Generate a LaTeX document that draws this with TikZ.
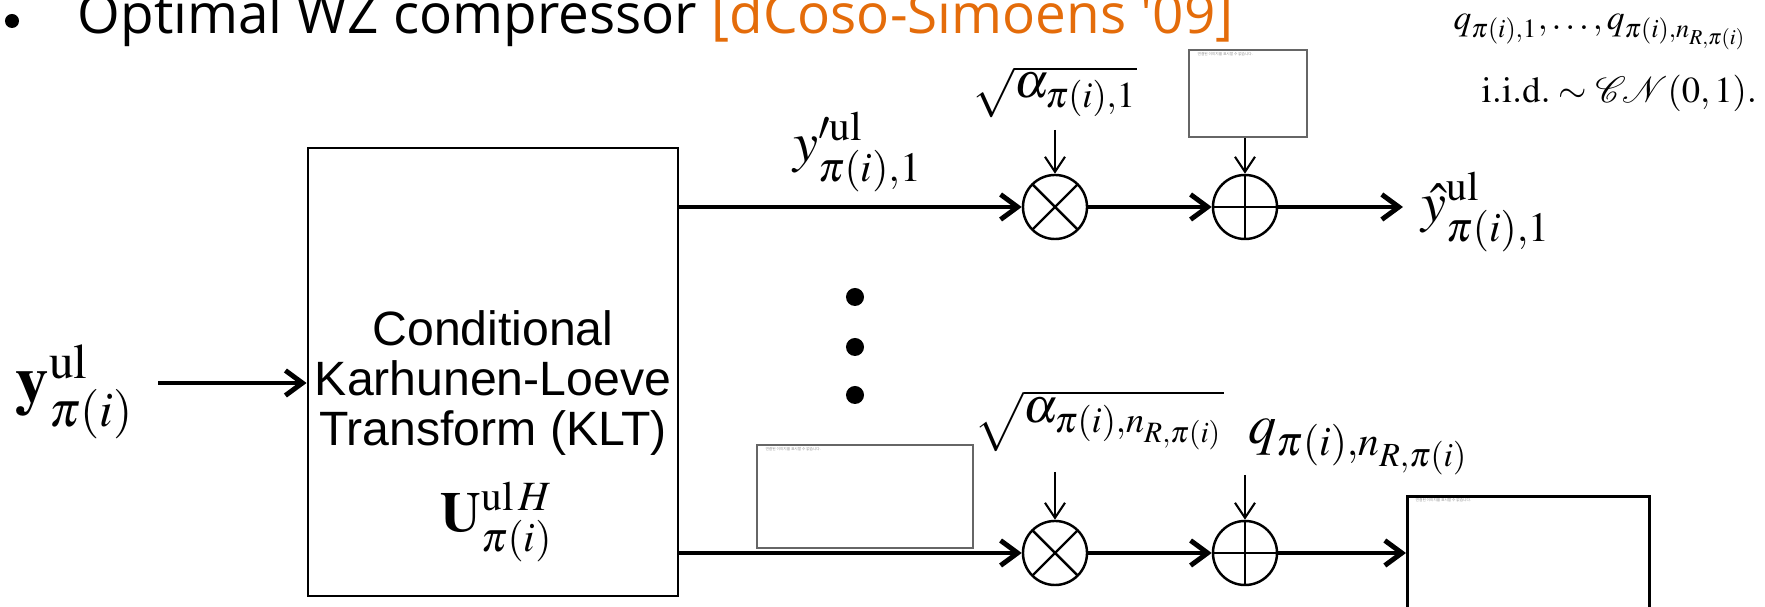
\documentclass[tikz,border=0pt]{standalone}
\usepackage[no-math]{fontspec}
\usepackage{mathptmx}
\usepackage{bm}
\usepackage{tikz}
\usetikzlibrary{arrows.meta,positioning}
\newfontfamily\titlefont{Open Sans}
\newfontfamily\boxfont{Liberation Sans}
\newfontfamily\phfont{Noto Sans CJK KR}
\definecolor{refcolor}{RGB}{228,108,10}

\begin{document}
\begin{tikzpicture}[
  x=0.01cm, y=-0.01cm,
  sig/.style={line width=1.4pt, -{Straight Barb[length=0.17cm, width=0.25cm]}},
  gain/.style={line width=0.6pt, -{Straight Barb[length=0.15cm, width=0.2cm]}},
  op/.style={draw, circle, line width=0.7pt, minimum size=0.64cm, inner sep=0pt},
  mult/.style={op, path picture={\draw[line width=0.7pt]
      (path picture bounding box.north west) -- (path picture bounding box.south east)
      (path picture bounding box.north east) -- (path picture bounding box.south west);}},
  adder/.style={op, path picture={\draw[line width=0.7pt]
      (path picture bounding box.north) -- (path picture bounding box.south)
      (path picture bounding box.west) -- (path picture bounding box.east);}},
  ph/.style={draw=black!60, line width=0.6pt, inner sep=0pt},
  phtext/.style={font=\phfont\fontsize{1.05}{1.2}\selectfont, text=black!45, inner sep=0pt, anchor=north west},
  lbl/.style={inner sep=0pt, font=\fontsize{16}{18}\selectfont},
  dot/.style={circle, fill, inner sep=0pt, minimum size=0.18cm}
]
\useasboundingbox (0,0) rectangle (1765,607);

% title line
\node[circle, fill, inner sep=0pt, minimum size=0.14cm] (bullet) at (12,21) {};
\node[anchor=base west, inner sep=0pt, font=\titlefont\fontsize{15.6}{18}\selectfont] (title) at (77,34)
  {Optimal WZ compressor \textcolor{refcolor}{[dCoso-Simoens '09]}};

% KLT block
\node[draw, line width=0.75pt, minimum width=3.70cm, minimum height=4.48cm, inner sep=0pt] (klt) at (493,372) {};
\node[font=\boxfont\fontsize{13.7}{14.2}\selectfont, align=center, inner sep=0pt] (kltname) at (493,383)
  {Conditional\\Karhunen-Loeve\\Transform (KLT)};
\node[lbl] (kltmat) at (497,522) {$\mathbf{U}^{\mathrm{ul}\,H}_{\pi(i)}$};

% input
\node[lbl, font=\fontsize{19}{22}\selectfont] (yin) at (75,392) {$\mathbf{y}^{\mathrm{ul}}_{\pi(i)}$};
\coordinate (in) at (158,383);
\draw[sig] (in) -- (in -| klt.west);

% first branch
\node[mult] (m1) at (1055,207) {};
\node[adder] (a1) at (1245,207) {};
\coordinate (out1) at (1403,207);
\draw[sig] (klt.east |- m1) -- (m1);
\draw[sig] (m1) -- (a1);
\draw[sig] (a1) -- (out1);
\node[lbl] (yp1) at (858,152) {$y^{\prime\mathrm{ul}}_{\pi(i),1}$};
\node[lbl, anchor=west] (yhat1) at (1421,212) {$\hat{y}^{\mathrm{ul}}_{\pi(i),1}$};
\node[lbl, font=\fontsize{14}{16}\selectfont] (g1) at (1055,92) {$\sqrt{\alpha_{\pi(i),1}}$};
\coordinate (g1end) at (1055,130);
\draw[gain] (g1end) -- (m1);
\node[ph, minimum width=1.18cm, minimum height=0.87cm] (q1box) at (1248,93.5) {};
\node[phtext] (q1msg) at ([shift={(9,3)}]q1box.north west) {연결된 이미지를 표시할 수 없습니다.};
\draw[gain] (a1 |- q1box.south) -- (a1);

% dots
\foreach \y [count=\k] in {297,347,395}
  \node[dot] (dot\k) at (855,\y) {};

% last branch
\node[mult] (m2) at (1055,553) {};
\node[adder] (a2) at (1245,553) {};
\node[draw, line width=0.75pt, minimum width=2.42cm, minimum height=1.5cm, anchor=north west, inner sep=0pt] (outbox) at (1406,495) {};
\node[phtext] (outmsg) at ([shift={(9,3)}]outbox.north west) {연결된 이미지를 표시할 수 없습니다.};
\draw[sig] (klt.east |- m2) -- (m2);
\draw[sig] (m2) -- (a2);
\draw[sig] (a2) -- (a2 -| outbox.west);
\node[ph, minimum width=2.16cm, minimum height=1.03cm] (ybox) at (865,496.5) {};
\node[phtext] (ymsg) at ([shift={(9,3)}]ybox.north west) {연결된 이미지를 표시할 수 없습니다.};
\node[lbl, font=\fontsize{14}{16}\selectfont] (g2) at (1099,421) {$\sqrt{\alpha_{\pi(i),n_{R,\pi(i)}}}$};
\coordinate (g2end) at (1055,472);
\draw[gain] (g2end) -- (m2);
\node[lbl, anchor=west] (qn) at (1248,447) {$q_{\pi(i),n_{R,\pi(i)}}$};
\coordinate (qnend) at (1245,475);
\draw[gain] (qnend) -- (a2);

% noise statistics
\node[lbl, font=\fontsize{10.1}{12}\selectfont, anchor=west] (qlist) at (1453,32)
  {$q_{\pi(i),1},\ldots,q_{\pi(i),n_{R,\pi(i)}}$};
\node[lbl, font=\fontsize{10.4}{12}\selectfont, anchor=west] (iid) at (1481,93)
  {$\mathrm{i.i.d.}\sim\bm{\mathcal{C}\!\mathcal{N}}(0,1).$};
\end{tikzpicture}
\end{document}
